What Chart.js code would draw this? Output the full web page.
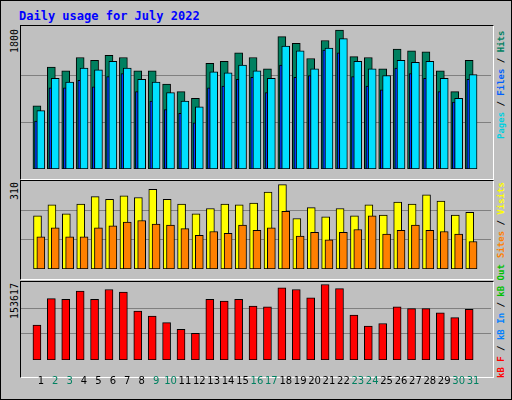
<!DOCTYPE html>
<html><head><meta charset="utf-8">
<script src="https://cdn.jsdelivr.net/npm/chart.js@4"></script>
<style>
body{margin:0;background:#fff}
#wrap{position:absolute;left:0;top:0;width:510px;height:398px;background:#c0c0c0;border:1px solid #000}
.panel{position:absolute;left:19px;width:472px;border-top:1px solid #000;border-left:1px solid #000;border-right:1px solid #fff;border-bottom:1px solid #fff}
canvas{position:absolute}
.t{position:absolute;font-family:"DejaVu Sans Mono",monospace;font-size:10px;line-height:11px;white-space:nowrap}
.rot{transform-origin:0 0;transform:rotate(-90deg)}
.r{font-size:9px;font-weight:bold}
</style></head><body>
<div id="wrap">
  <div class="t" style="left:18px;top:8px;color:#0000ff;font-weight:bold;font-size:12px;line-height:14px">Daily usage for July 2022</div>
  <div class="panel" style="top:24px;height:153px"></div>
  <div class="panel" style="top:179px;height:98px"></div>
  <div class="panel" style="top:280px;height:95px"></div>
  <div class="t rot" style="left:8px;top:52px">1800</div>
  <div class="t rot" style="left:8px;top:199px">310</div>
  <div class="t rot" style="left:8px;top:318px">153617</div>
  <div class="t rot r" style="left:495px;top:138px"><span style="color:#00d0e0">Pages</span> / <span style="color:#0060ff">Files</span> / <span style="color:#008060">Hits</span></div>
  <div class="t rot r" style="left:495px;top:257px"><span style="color:#ff8000">Sites</span> / <span style="color:#ffff00">Visits</span></div>
  <div class="t rot r" style="left:495px;top:377px"><span style="color:#ff0000">kB F</span> / <span style="color:#0080ff">kB In</span> / <span style="color:#00c000">kB Out</span></div>
</div>
<canvas id="c1" width="470" height="151" style="left:21px;top:26px"></canvas>
<canvas id="c2" width="470" height="96" style="left:21px;top:181px"></canvas>
<canvas id="c3" width="470" height="112" style="left:21px;top:282px"></canvas>
<script>
const days = Array.from({length: 31}, (_, i) => i + 1);
const weekends = [2, 3, 9, 10, 16, 17, 23, 24, 30, 31];
const hits = [811,1309,1261,1431,1395,1459,1431,1261,1261,1090,993,908,1358,1382,1492,1431,1285,1699,1613,1419,1650,1784,1443,1431,1285,1541,1516,1504,1261,993,1395];
const files = [750,1163,1115,1297,1273,1382,1297,1151,1115,981,872,799,1249,1236,1334,1261,1163,1577,1516,1285,1553,1674,1382,1285,1200,1395,1370,1382,1163,908,1212];
const pages = [616,1042,1042,1139,1054,1188,1224,993,872,762,714,592,1042,1066,1151,1176,981,1334,1176,1200,1528,1492,1188,1066,1018,1297,1224,1163,993,859,1151];
const visits = [187,226,194,229,255,245,258,252,281,245,229,194,213,229,226,232,271,297,178,216,184,213,187,226,190,236,229,261,239,190,200];
const sites = [113,145,113,113,145,152,165,171,158,155,142,119,132,126,155,136,145,203,116,129,103,129,139,187,123,136,155,136,132,123,97];
const kbytes = [68632,120923,119289,135630,119289,138898,133996,96412,86607,73534,60462,52291,119289,116021,119289,106216,104582,142166,138898,122557,148703,140532,88241,66998,71900,104582,101314,101314,93144,83340,99683];

function bars(label, vals, shift, width, color, order) {
  return {
    label: label,
    data: vals.map((v, i) => ({x: days[i] + shift, y: v})),
    backgroundColor: color,
    borderColor: '#000',
    borderWidth: 1,
    borderSkipped: false,
    barThickness: width,
    grouped: false,
    order: order
  };
}

function makeChart(id, datasets, yMax, grid, showDays) {
  new Chart(document.getElementById(id), {
    type: 'bar',
    data: {datasets: datasets},
    options: {
      responsive: false,
      animation: false,
      layout: {padding: 0},
      plugins: {legend: {display: false}, tooltip: {enabled: false}},
      scales: {
        x: {
          type: 'linear', min: 0.15, max: 31.72,
          grid: {display: false}, border: {display: false},
          afterBuildTicks: ax => { ax.ticks = days.map(d => ({value: d})); },
          ticks: {
            display: showDays, autoSkip: false, maxRotation: 0, padding: 7,
            font: {family: 'DejaVu Sans', size: 10},
            color: c => weekends.includes(c.tick.value) ? '#008060' : '#000'
          }
        },
        y: {
          min: 0, max: yMax,
          border: {display: false},
          grid: {color: '#808080', drawTicks: false},
          afterBuildTicks: ax => { ax.ticks = grid.map(v => ({value: v})); },
          ticks: {display: false}
        }
      }
    }
  });
}

makeChart('c1', [
  bars('Hits', hits, -0.27, 8, '#008060', 3),
  bars('Files', files, 0, 8, '#00e0ff', 1),
  bars('Pages', pages, -0.33, 3, '#0040ff', 2)
], 1836, [600, 1200], false);

makeChart('c2', [
  bars('Visits', visits, -0.23, 8, '#ffff00', 2),
  bars('Sites', sites, 0, 8, '#ff8000', 1)
], 310, [103, 207], false);

makeChart('c3', [
  bars('kB F', kbytes, -0.27, 8, '#ff0000', 1)
], 153617, [51206, 102411], true);
</script>
</body></html>
